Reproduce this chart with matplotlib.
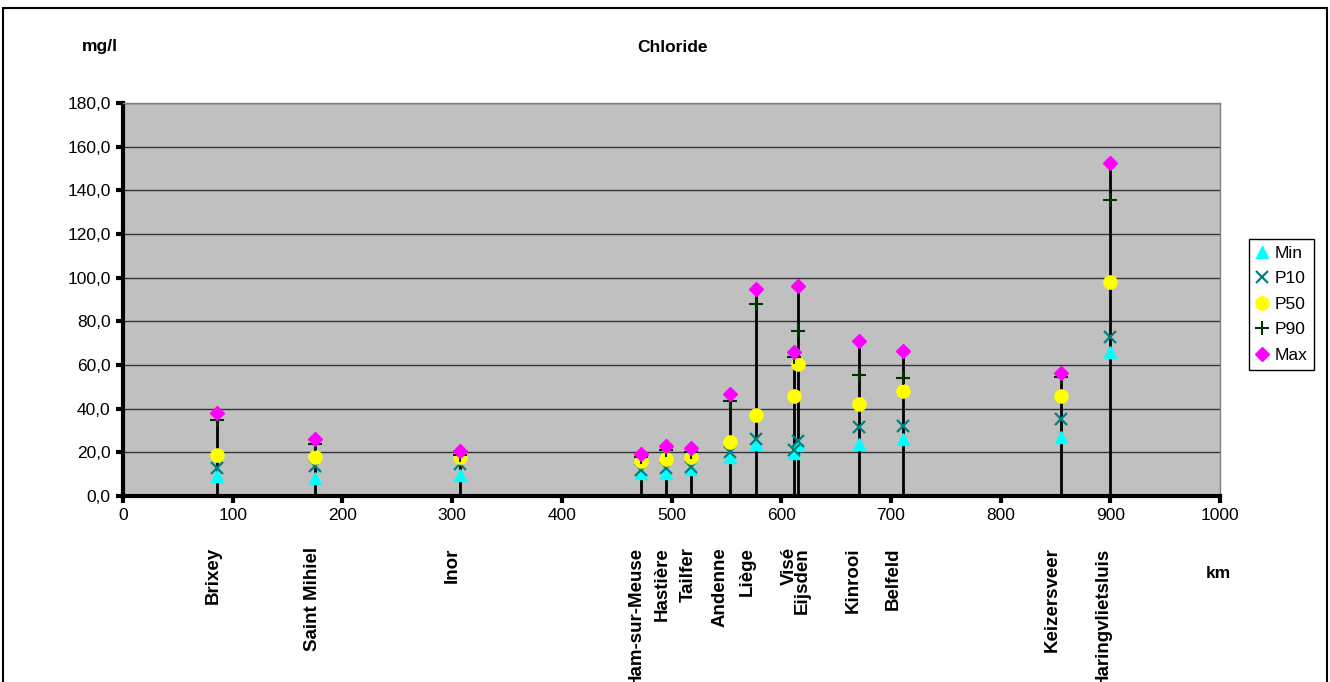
import matplotlib
matplotlib.use("Agg")
import matplotlib.pyplot as plt
from matplotlib.patches import Rectangle
from matplotlib.ticker import FuncFormatter, MultipleLocator

plt.rcParams['font.family'] = ['Liberation Sans', 'DejaVu Sans']

# Meuse stations: river km and chloride statistics (mg/l)
stations = ["Brixey", "Saint Mihiel", "Inor", "Ham-sur-Meuse", "Hastière", "Tailfer",
            "Andenne", "Liège", "Visé", "Eijsden", "Kinrooi", "Belfeld",
            "Keizersveer", "Haringvlietsluis"]
km = [86, 175, 307, 472, 495, 518, 553, 577, 612, 615, 671, 711, 855, 900]
label_km = [82, 173, 300, 468, 492, 515, 544, 569, 607, 619, 666, 702, 847, 894]

cl_min = [9.0, 8.2, 9.6, 10.7, 10.5, 12.4, 18.0, 23.8, 19.8, 23.4, 23.8, 26.1, 26.9, 66.1]
cl_p10 = [13.0, 13.9, 14.6, 11.9, 12.8, 13.4, 20.3, 26.0, 21.0, 25.3, 31.8, 32.2, 35.3, 72.7]
cl_p50 = [19.0, 18.0, 17.9, 16.2, 17.0, 18.0, 24.9, 37.0, 45.8, 60.3, 42.0, 48.2, 45.8, 98.2]
cl_p90 = [35.0, 24.0, 19.0, 18.0, 21.0, 20.0, 43.7, 87.8, 63.8, 75.6, 55.6, 54.2, 54.4, 135.6]
cl_max = [38.0, 26.1, 20.8, 19.2, 22.9, 22.1, 46.7, 94.8, 65.8, 96.3, 70.9, 66.3, 56.5, 152.7]

fig = plt.figure(figsize=(13.3, 6.82), dpi=100)
fig.patches.append(Rectangle((3 / 1330, -0.05), 1324 / 1330, 1.05 - 8 / 682,
                             transform=fig.transFigure, fill=False,
                             edgecolor='black', linewidth=1.5))

ax = fig.add_axes([123 / 1330, 1 - 496 / 682, 1097 / 1330, 393 / 682])
ax.set_facecolor('#C0C0C0')
ax.set_xlim(0, 1000)
ax.set_ylim(0, 180)

ax.yaxis.set_major_locator(MultipleLocator(20))
ax.xaxis.set_major_locator(MultipleLocator(100))
ax.yaxis.set_major_formatter(FuncFormatter(lambda v, p: f"{v:.1f}".replace('.', ',')))
ax.xaxis.set_major_formatter(FuncFormatter(lambda v, p: f"{v:.0f}"))
ax.grid(axis='y', color='#333333', linewidth=1.0)
ax.set_axisbelow(True)

for side in ['top', 'right']:
    ax.spines[side].set_color('#808080')
    ax.spines[side].set_linewidth(1.0)
for side in ['left', 'bottom']:
    ax.spines[side].set_color('black')
    ax.spines[side].set_linewidth(3.0)
ax.tick_params(axis='both', direction='out', length=5, width=3, labelsize=12.5, pad=4)

# stems from zero to the maximum
ax.vlines(km, 0, cl_max, colors='black', linewidth=2.0, zorder=2)

ax.plot(km, cl_min, linestyle='none', marker='^', color='#00FFFF', markersize=9, label='Min', zorder=3)
ax.plot(km, cl_p10, linestyle='none', marker='x', color='#008080', markersize=8,
        markeredgewidth=1.6, label='P10', zorder=4)
ax.plot(km, cl_p50, linestyle='none', marker='o', color='#FFFF00', markersize=9.5, label='P50', zorder=5)
ax.plot(km, cl_p90, linestyle='none', marker='+', color='#003300', markersize=10,
        markeredgewidth=1.5, label='P90', zorder=6)
ax.plot(km, cl_max, linestyle='none', marker='D', color='#FF00FF', markersize=7, label='Max', zorder=7)

leg = ax.legend(loc='upper left', bbox_to_anchor=(1.026, 0.655), frameon=True, fancybox=False,
                edgecolor='black', facecolor='white', framealpha=1, fontsize=12.5,
                handlelength=0.8, handletextpad=0.3, borderpad=0.4, labelspacing=0.6,
                borderaxespad=0)
leg.get_frame().set_linewidth(1.0)

for name, xk in zip(stations, label_km):
    ax.text(xk, -23.5, name, rotation=90, ha='center', va='top', fontsize=13.5,
            fontweight='bold', clip_on=False)

fig.text(100 / 1330, 1 - 47 / 682, "mg/l", ha='center', va='center', fontsize=12.5, fontweight='bold')
fig.text(673 / 1330, 1 - 47 / 682, "Chloride", ha='center', va='center', fontsize=12.5, fontweight='bold')
fig.text(1218 / 1330, 1 - 573 / 682, "km", ha='center', va='center', fontsize=12.5, fontweight='bold')

fig.savefig("out.png", dpi=100)
